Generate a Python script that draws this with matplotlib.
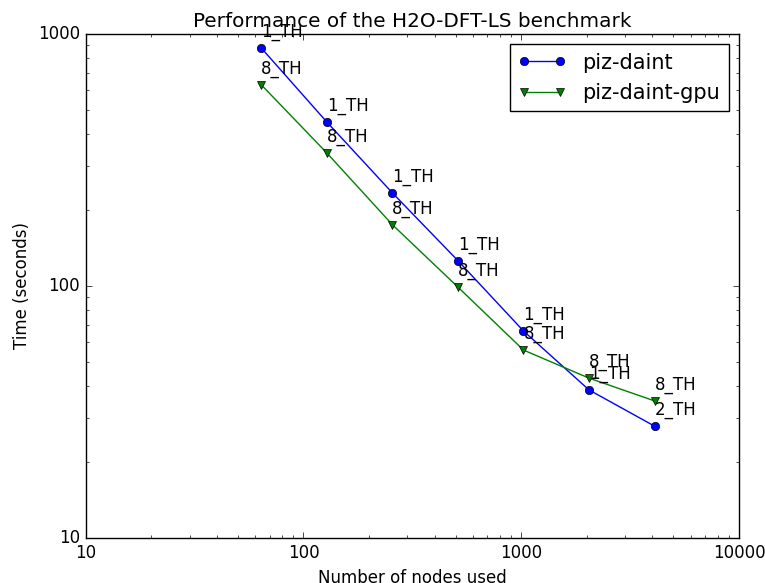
import matplotlib
matplotlib.use("Agg")
import matplotlib.pyplot as plt
from matplotlib.ticker import FormatStrFormatter

# H2O-DFT-LS benchmark timings
nodes = [64, 128, 256, 512, 1024, 2048, 4096]

daint_time = [879, 447, 234, 126, 66.3, 38.7, 27.8]
daint_labels = ["1_TH", "1_TH", "1_TH", "1_TH", "1_TH", "1_TH", "2_TH"]

gpu_time = [628, 337, 175, 99, 55.7, 43.1, 35]
gpu_labels = ["8_TH", "8_TH", "8_TH", "8_TH", "8_TH", "8_TH", "8_TH"]

plt.style.use("classic")

fig = plt.figure(figsize=(7.65, 5.83), dpi=100, facecolor="white")
ax = fig.add_axes([0.112, 0.077, 0.854, 0.865])

ax.plot(nodes, daint_time, "bo-", label="piz-daint")
ax.plot(nodes, gpu_time, "gv-", label="piz-daint-gpu")

for x, y, lab in zip(nodes, daint_time, daint_labels):
    ax.annotate(lab, (x, y), xytext=(0, 5), textcoords="offset points",
                ha="left", va="bottom", fontsize=12)

for x, y, lab in zip(nodes, gpu_time, gpu_labels):
    ax.annotate(lab, (x, y), xytext=(0, 5), textcoords="offset points",
                ha="left", va="bottom", fontsize=12)

ax.set_xscale("log")
ax.set_yscale("log")
ax.set_xlim(10, 10000)
ax.set_ylim(10, 1000)
ax.xaxis.set_major_formatter(FormatStrFormatter("%d"))
ax.yaxis.set_major_formatter(FormatStrFormatter("%d"))

ax.set_title("Performance of the H2O-DFT-LS benchmark")
ax.set_xlabel("Number of nodes used")
ax.set_ylabel("Time (seconds)")
ax.legend(loc="upper right", numpoints=2, fontsize=15, handlelength=2.3)

fig.savefig("out.png", dpi=100, facecolor="white")
